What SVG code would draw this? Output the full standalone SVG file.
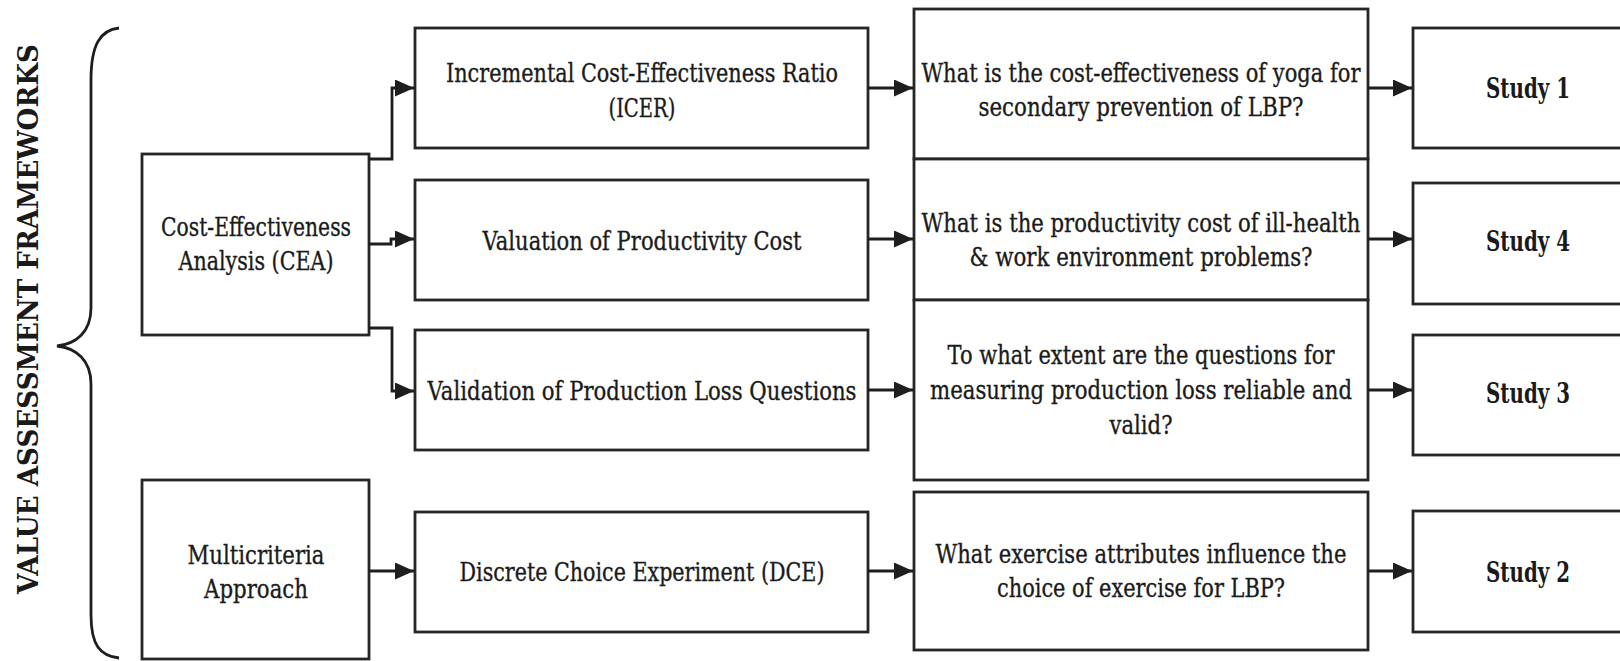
<svg xmlns="http://www.w3.org/2000/svg" width="1620" height="661" viewBox="0 0 1620 661">
  <style>
    .box { fill: #ffffff; stroke: #262626; stroke-width: 2.8; }
    .wire { fill: none; stroke: #1e1e1e; stroke-width: 2.8; }
    .txt { font-family: "DejaVu Serif", "Liberation Serif", serif; font-size: 26px; fill: #1a1a1a; stroke: #1a1a1a; stroke-width: 0.35; text-anchor: middle; }
    .bold { font-family: "DejaVu Serif", "Liberation Serif", serif; font-size: 28px; font-weight: bold; fill: #1a1a1a; text-anchor: middle; }
  </style>
  <defs>
    <marker id="arrow" viewBox="0 0 19 17" refX="19" refY="8.5" markerWidth="19" markerHeight="17" markerUnits="userSpaceOnUse" orient="auto">
      <path d="M0,0 L19,8.5 L0,17 z" fill="#1e1e1e"/>
    </marker>
  </defs>
  <rect width="1620" height="661" fill="#ffffff"/>

  <!-- side title and brace -->
  <g id="title">
    <text class="bold" transform="translate(38,319) rotate(-90)" font-size="25" textLength="550" lengthAdjust="spacingAndGlyphs">VALUE ASSESSMENT FRAMEWORKS</text>
  </g>
  <g id="brace">
    <path class="wire" stroke-width="2.2" d="M119,28 C100,30 91,45 91,80 L91,308 C91,332 76,344 57,346 C76,348 91,360 91,384 L91,615 C91,645 100,656 119,658"/>
  </g>

  <!-- frameworks -->
  <g id="cea">
    <rect class="box" x="142" y="154" width="227" height="181"/>
    <text class="txt" x="256" y="236" textLength="190" lengthAdjust="spacingAndGlyphs">Cost-Effectiveness</text>
    <text class="txt" x="256" y="270" textLength="155" lengthAdjust="spacingAndGlyphs">Analysis (CEA)</text>
  </g>
  <g id="multicriteria">
    <rect class="box" x="142" y="480" width="227" height="179"/>
    <text class="txt" x="256" y="564" textLength="137" lengthAdjust="spacingAndGlyphs">Multicriteria</text>
    <text class="txt" x="256" y="598" textLength="104" lengthAdjust="spacingAndGlyphs">Approach</text>
  </g>

  <!-- methods -->
  <g id="icer">
    <rect class="box" x="415" y="28" width="453" height="120"/>
    <text class="txt" x="642" y="82" textLength="392" lengthAdjust="spacingAndGlyphs">Incremental Cost-Effectiveness Ratio</text>
    <text class="txt" x="642" y="117" textLength="67" lengthAdjust="spacingAndGlyphs">(ICER)</text>
  </g>
  <g id="productivity">
    <rect class="box" x="415" y="180" width="453" height="120"/>
    <text class="txt" x="642" y="250" textLength="319" lengthAdjust="spacingAndGlyphs">Valuation of Productivity Cost</text>
  </g>
  <g id="validation">
    <rect class="box" x="415" y="330" width="453" height="120"/>
    <text class="txt" x="642" y="400" textLength="429" lengthAdjust="spacingAndGlyphs">Validation of Production Loss Questions</text>
  </g>
  <g id="dce">
    <rect class="box" x="415" y="512" width="453" height="120"/>
    <text class="txt" x="642" y="581" textLength="365" lengthAdjust="spacingAndGlyphs">Discrete Choice Experiment (DCE)</text>
  </g>

  <!-- research questions -->
  <g id="q1">
    <rect class="box" x="914" y="9" width="454" height="150"/>
    <text class="txt" x="1141" y="82" textLength="439" lengthAdjust="spacingAndGlyphs">What is the cost-effectiveness of yoga for</text>
    <text class="txt" x="1141" y="116" textLength="325" lengthAdjust="spacingAndGlyphs">secondary prevention of LBP?</text>
  </g>
  <g id="q4">
    <rect class="box" x="914" y="159" width="454" height="141"/>
    <text class="txt" x="1141" y="232" textLength="439" lengthAdjust="spacingAndGlyphs">What is the productivity cost of ill-health</text>
    <text class="txt" x="1141" y="266" textLength="343" lengthAdjust="spacingAndGlyphs">&amp; work environment problems?</text>
  </g>
  <g id="q3">
    <rect class="box" x="914" y="300" width="454" height="180"/>
    <text class="txt" x="1141" y="364" textLength="387" lengthAdjust="spacingAndGlyphs">To what extent are the questions for</text>
    <text class="txt" x="1141" y="399" textLength="422" lengthAdjust="spacingAndGlyphs">measuring production loss reliable and</text>
    <text class="txt" x="1141" y="434" textLength="63" lengthAdjust="spacingAndGlyphs">valid?</text>
  </g>
  <g id="q2">
    <rect class="box" x="914" y="492" width="454" height="158"/>
    <text class="txt" x="1141" y="563" textLength="411" lengthAdjust="spacingAndGlyphs">What exercise attributes influence the</text>
    <text class="txt" x="1141" y="597" textLength="288" lengthAdjust="spacingAndGlyphs">choice of exercise for LBP?</text>
  </g>

  <!-- studies -->
  <g id="study1">
    <rect class="box" x="1413" y="28" width="230" height="120"/>
    <text class="bold" x="1528" y="98" textLength="84" lengthAdjust="spacingAndGlyphs">Study 1</text>
  </g>
  <g id="study4">
    <rect class="box" x="1413" y="183" width="230" height="121"/>
    <text class="bold" x="1528" y="251" textLength="84" lengthAdjust="spacingAndGlyphs">Study 4</text>
  </g>
  <g id="study3">
    <rect class="box" x="1413" y="335" width="230" height="120"/>
    <text class="bold" x="1528" y="403" textLength="84" lengthAdjust="spacingAndGlyphs">Study 3</text>
  </g>
  <g id="study2">
    <rect class="box" x="1413" y="511" width="230" height="121"/>
    <text class="bold" x="1528" y="582" textLength="84" lengthAdjust="spacingAndGlyphs">Study 2</text>
  </g>

  <!-- connectors -->
  <g id="connectors">
    <path class="wire" marker-end="url(#arrow)" d="M369,159 H392 V88 H414"/>
    <path class="wire" marker-end="url(#arrow)" d="M369,244 H391 V239 H414"/>
    <path class="wire" marker-end="url(#arrow)" d="M369,328 H392 V391 H414"/>
    <path class="wire" marker-end="url(#arrow)" d="M369,571 H414"/>
    <path class="wire" marker-end="url(#arrow)" d="M868,88 H913"/>
    <path class="wire" marker-end="url(#arrow)" d="M868,239 H913"/>
    <path class="wire" marker-end="url(#arrow)" d="M868,390 H913"/>
    <path class="wire" marker-end="url(#arrow)" d="M868,571 H913"/>
    <path class="wire" marker-end="url(#arrow)" d="M1368,88 H1412"/>
    <path class="wire" marker-end="url(#arrow)" d="M1368,239 H1412"/>
    <path class="wire" marker-end="url(#arrow)" d="M1368,390 H1412"/>
    <path class="wire" marker-end="url(#arrow)" d="M1368,571 H1412"/>
  </g>
</svg>
